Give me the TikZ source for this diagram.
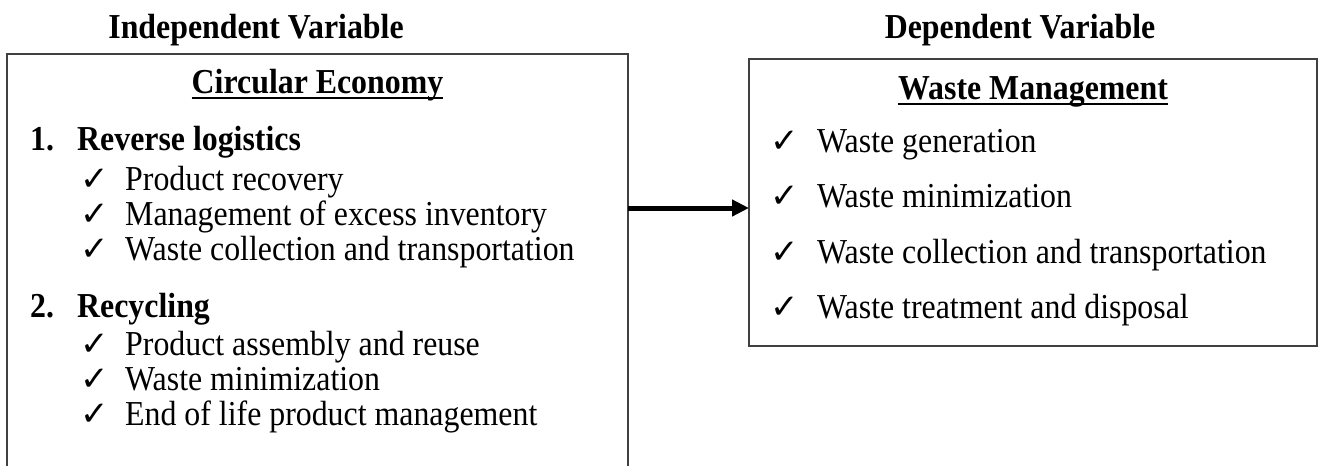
\documentclass[tikz,border=0pt]{standalone}
\usepackage{fontspec}
\setmainfont[FakeStretch=0.91]{Liberation Serif}
\newfontfamily\tickfont{DejaVu Sans}
\usetikzlibrary{arrows.meta}
\tikzset{
  boxline/.style={draw=black!75, line width=1.4pt},
  headtxt/.style={anchor=base, inner sep=0pt, font=\fontsize{35}{40}\selectfont\bfseries},
  numtxt/.style={anchor=base west, inner sep=0pt, font=\fontsize{35}{40}\selectfont\bfseries},
  itemtxt/.style={anchor=base west, inner sep=0pt, font=\fontsize{35}{40}\selectfont},
  ticktxt/.style={anchor=base west, inner sep=0pt, font=\tickfont\fontsize{34}{40}\selectfont},
}
\begin{document}
\begin{tikzpicture}[x=1pt,y=-1pt]
        \useasboundingbox (0,0) rectangle (1324,466);
        \node[headtxt] (indep) at (256,38)  {Independent Variable};      %
        \node[headtxt] (dep)   at (1020,38) {Dependent Variable};        %
        \draw [boxline] (7,466) -- (7,54) -- (628,54) -- (628,466);      %Circular Economy
        \draw [boxline] (749,59) rectangle (1317,346);                   %Waste Management
        \node[headtxt] (cehd) at (317.5,93) {Circular Economy};          %
        \draw [line width=2.5pt] ([yshift=-5pt]cehd.base west) -- ([yshift=-5pt]cehd.base east);
        \node[headtxt] (wmhd) at (1033,99)  {Waste Management};          %
        \draw [line width=2.5pt] ([yshift=-5pt]wmhd.base west) -- ([yshift=-5pt]wmhd.base east);

        \node[numtxt]  (n1)   at (30,150)   {1.};                        %
        \node[numtxt]  (rl)   at (77,150)   {Reverse logistics};         %
        \node[ticktxt] (t11)  at (80,190)   {✓};                         %
        \node[itemtxt] (i11)  at (125,190)  {Product recovery};          %
        \node[ticktxt] (t12)  at (80,225)   {✓};                         %
        \node[itemtxt] (i12)  at (125,225)  {Management of excess inventory};
        \node[ticktxt] (t13)  at (80,260)   {✓};                         %
        \node[itemtxt] (i13)  at (125,260)  {Waste collection and transportation};

        \node[numtxt]  (n2)   at (30,317)   {2.};                        %
        \node[numtxt]  (rc)   at (77,317)   {Recycling};                 %
        \node[ticktxt] (t21)  at (80,355)   {✓};                         %
        \node[itemtxt] (i21)  at (125,355)  {Product assembly and reuse};%
        \node[ticktxt] (t22)  at (80,390)   {✓};                         %
        \node[itemtxt] (i22)  at (125,390)  {Waste minimization};        %
        \node[ticktxt] (t23)  at (80,425)   {✓};                         %
        \node[itemtxt] (i23)  at (125,425)  {End of life product management};

        \node[ticktxt] (w1t)  at (770,152)  {✓};                         %
        \node[itemtxt] (w1)   at (817,152)  {Waste generation};          %
        \node[ticktxt] (w2t)  at (770,207)  {✓};                         %
        \node[itemtxt] (w2)   at (817,207)  {Waste minimization};        %
        \node[ticktxt] (w3t)  at (770,263)  {✓};                         %
        \node[itemtxt] (w3)   at (817,263)  {Waste collection and transportation};
        \node[ticktxt] (w4t)  at (770,318)  {✓};                         %
        \node[itemtxt] (w4)   at (817,318)  {Waste treatment and disposal};

        \coordinate (ceR) at (628,208);                                  %
        \coordinate (wmL) at (749,208);                                  %
        \draw [line width=5pt, -{Triangle[length=17pt,width=16pt]}] (ceR) -- (wmL);
\end{tikzpicture}
\end{document}
